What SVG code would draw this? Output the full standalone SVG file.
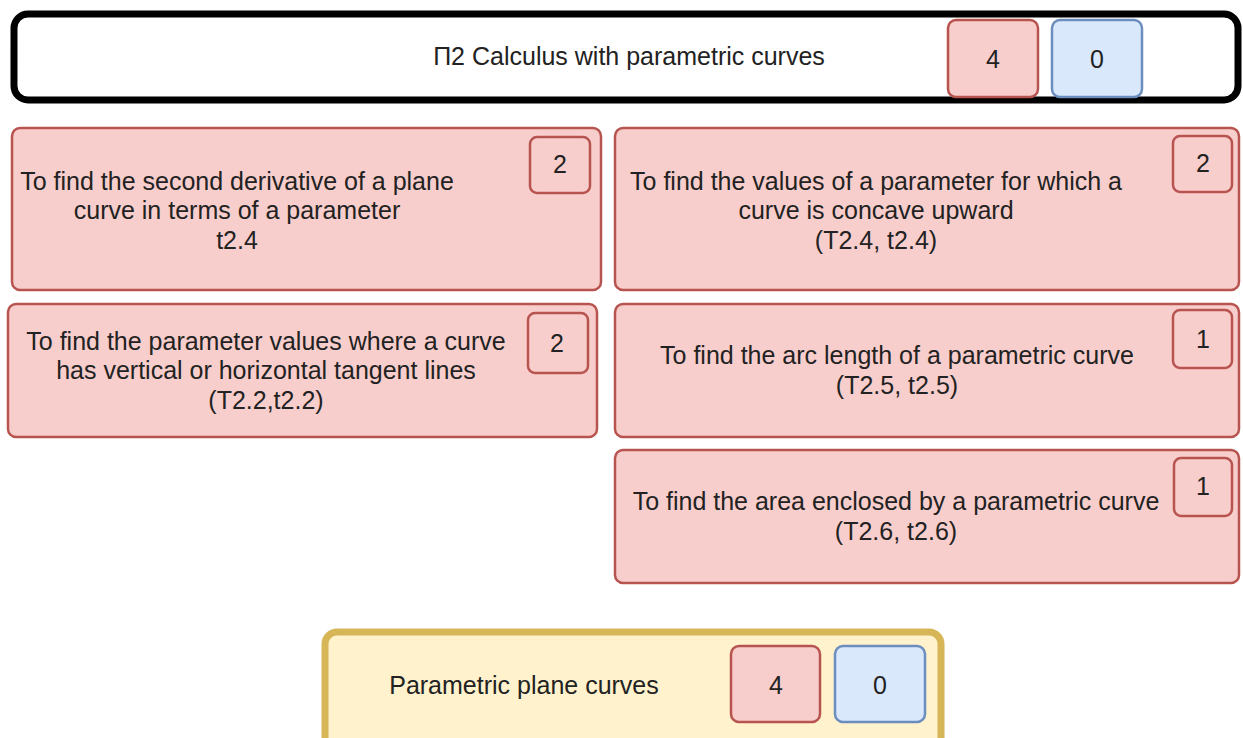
<svg xmlns="http://www.w3.org/2000/svg" width="1243" height="738" viewBox="0 0 1243 738">
<style>
text{font-family:"Liberation Sans",Arial,sans-serif;font-size:25px;fill:#222;text-anchor:middle;dominant-baseline:central}
.task{fill:#f8cecc;stroke:#b85450;stroke-width:2.5}
.badge{fill:#f8cecc;stroke:#b85450;stroke-width:2.5}
.red{fill:#f8cecc;stroke:#b85450;stroke-width:2.5}
.blue{fill:#dae8fc;stroke:#6c8ebf;stroke-width:2.5}
</style>
<rect width="1243" height="738" fill="#ffffff"/>
<g id="connectors"/>
<g id="topic">
<rect x="14" y="14" width="1224" height="86" rx="14" fill="#ffffff" stroke="#000000" stroke-width="7"/>
<text x="629" y="56">П2 Calculus with parametric curves</text>
<rect class="red" x="948" y="20" width="90" height="77" rx="8"/>
<text x="993" y="59">4</text>
<rect class="blue" x="1052" y="20" width="90" height="77" rx="8"/>
<text x="1097" y="59">0</text>
</g>
<g id="task1">
<rect class="task" x="12" y="128" width="589" height="162" rx="8"/>
<text x="237" y="181">To find the second derivative of a plane</text>
<text x="237" y="210">curve in terms of a parameter</text>
<text x="237" y="240">t2.4</text>
<rect class="badge" x="530" y="137" width="60" height="56" rx="7"/>
<text x="560" y="164">2</text>
</g>
<g id="task2">
<rect class="task" x="615" y="128" width="624" height="162" rx="8"/>
<text x="876" y="181">To find the values of a parameter for which a</text>
<text x="876" y="210">curve is concave upward</text>
<text x="876" y="240">(T2.4, t2.4)</text>
<rect class="badge" x="1173" y="136" width="59" height="56" rx="7"/>
<text x="1203" y="163">2</text>
</g>
<g id="task3">
<rect class="task" x="8" y="304" width="589" height="133" rx="8"/>
<text x="266" y="341">To find the parameter values where a curve</text>
<text x="266" y="370">has vertical or horizontal tangent lines</text>
<text x="266" y="400">(T2.2,t2.2)</text>
<rect class="badge" x="528" y="313" width="60" height="60" rx="7"/>
<text x="557" y="343">2</text>
</g>
<g id="task4">
<rect class="task" x="615" y="304" width="624" height="133" rx="8"/>
<text x="897" y="355">To find the arc length of a parametric curve</text>
<text x="897" y="385">(T2.5, t2.5)</text>
<rect class="badge" x="1173" y="310" width="59" height="58" rx="7"/>
<text x="1203" y="339">1</text>
</g>
<g id="task5">
<rect class="task" x="615" y="450" width="624" height="133" rx="8"/>
<text x="896" y="501">To find the area enclosed by a parametric curve</text>
<text x="896" y="531">(T2.6, t2.6)</text>
<rect class="badge" x="1174" y="458" width="58" height="58" rx="7"/>
<text x="1203" y="486">1</text>
</g>
<g id="module">
<rect x="325" y="632" width="616" height="150" rx="12" fill="#fff2cc" stroke="#d6b656" stroke-width="7"/>
<text x="524" y="685">Parametric plane curves</text>
<rect class="red" x="731" y="646" width="89" height="76" rx="8"/>
<text x="776" y="685">4</text>
<rect class="blue" x="835" y="646" width="90" height="76" rx="8"/>
<text x="880" y="685">0</text>
</g>
</svg>
